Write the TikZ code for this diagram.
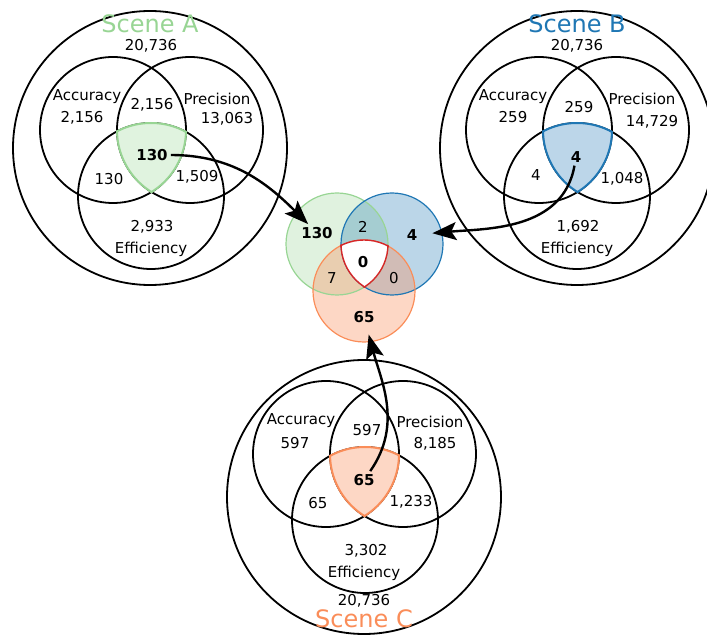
\documentclass[tikz,border=0pt]{standalone}
\usepackage{fontspec}
\setmainfont{DejaVu Sans}
\usepackage{xcolor}
\usepackage{tikz}
\usetikzlibrary{arrows.meta}

\definecolor{sceneA}{RGB}{152,213,148}
\definecolor{sceneB}{RGB}{31,119,180}
\definecolor{sceneC}{RGB}{250,141,89}
\definecolor{common}{RGB}{214,39,40}

\tikzset{
    set/.style={draw, line width=1.8pt},
    count/.style={font=\fontsize{15}{18}\selectfont, inner sep=2pt},
    hit/.style={font=\fontsize{15}{18}\selectfont\bfseries, inner sep=3pt},
    title/.style={font=\fontsize{24}{28}\selectfont, inner sep=0pt},
    flow/.style={-{Stealth[length=24pt,width=18pt,inset=5pt]}, line width=2.4pt},
}

% shared part of three circles: centres #1 #2 #3, radius #4, fill #5, edge #6
\newcommand{\sharedpart}[6]{%
    \begin{scope}
        \clip (#1) circle (#4); \clip (#2) circle (#4);
        \fill[#5] (#3) circle (#4);
    \end{scope}
    \begin{scope}
        \clip (#2) circle (#4+1); \clip (#3) circle (#4+1);
        \draw[#6] (#1) circle (#4);
    \end{scope}
    \begin{scope}
        \clip (#1) circle (#4+1); \clip (#3) circle (#4+1);
        \draw[#6] (#2) circle (#4);
    \end{scope}
    \begin{scope}
        \clip (#1) circle (#4+1); \clip (#2) circle (#4+1);
        \draw[#6] (#3) circle (#4);
    \end{scope}}

\begin{document}
\begin{tikzpicture}[x=1pt, y=1pt]
    \useasboundingbox (0,0) rectangle (707,635);

    % Scene A
    \coordinate (accA) at (113,505);
    \coordinate (preA) at (190,505);
    \coordinate (effA) at (151,439);
    \draw[set] (150,487) circle (137);
    \draw[set] (accA) circle (73);
    \draw[set] (preA) circle (73);
    \draw[set] (effA) circle (73);
    \sharedpart{accA}{preA}{effA}{73}{sceneA!30}{sceneA, line width=2pt}
    \node[title, text=sceneA] (titleA) at (150,611) {Scene A};
    \node[count] (allA) at (151,589) {20,736};
    \node[count] (accnameA) at (87,538) {Accuracy};
    \node[count] (accA1) at (82,517) {2,156};
    \node[count] (apA) at (152,530) {2,156};
    \node[count] (prenameA) at (217,536) {Precision};
    \node[count] (preA1) at (227,516) {13,063};
    \node[hit] (boldA) at (152,480) {130};
    \node[count] (aeA) at (109,456) {130};
    \node[count] (peA) at (197,458) {1,509};
    \node[count] (effA1) at (152,408) {2,933};
    \node[count] (effnameA) at (151,386) {Efficiency};

    % Scene B
    \coordinate (accB) at (539,505);
    \coordinate (preB) at (616,505);
    \coordinate (effB) at (577,439);
    \draw[set] (577,487) circle (137);
    \draw[set] (accB) circle (73);
    \draw[set] (preB) circle (73);
    \draw[set] (effB) circle (73);
    \sharedpart{accB}{preB}{effB}{73}{sceneB!30}{sceneB, line width=2pt}
    \node[title, text=sceneB] (titleB) at (577,611) {Scene B};
    \node[count] (allB) at (577,589) {20,736};
    \node[count] (accnameB) at (513,538) {Accuracy};
    \node[count] (accB1) at (513,518) {259};
    \node[count] (apB) at (579,528) {259};
    \node[count] (prenameB) at (642,536) {Precision};
    \node[count] (preB1) at (652,513) {14,729};
    \node[hit] (boldB) at (576,478) {4};
    \node[count] (aeB) at (536,460) {4};
    \node[count] (peB) at (622,456) {1,048};
    \node[count] (effB1) at (578,408) {1,692};
    \node[count] (effnameB) at (577,386) {Efficiency};

    % Scene C
    \coordinate (accC) at (326,181);
    \coordinate (preC) at (403,181);
    \coordinate (effC) at (365,115);
    \draw[set] (364,138) circle (137);
    \draw[set] (accC) circle (73);
    \draw[set] (preC) circle (73);
    \draw[set] (effC) circle (73);
    \sharedpart{accC}{preC}{effC}{73}{sceneC!35}{sceneC, line width=2pt}
    \node[count] (accnameC) at (301,214) {Accuracy};
    \node[count] (accC1) at (295,192) {597};
    \node[count] (apC) at (367,205) {597};
    \node[count] (prenameC) at (430,213) {Precision};
    \node[count] (preC1) at (435,191) {8,185};
    \node[hit] (boldC) at (364,155) {65};
    \node[count] (aeC) at (318,132) {65};
    \node[count] (peC) at (411,133) {1,233};
    \node[count] (effC1) at (366,84) {3,302};
    \node[count] (effnameC) at (364,62) {Efficiency};
    \node[count] (allC) at (364,34) {20,736};
    \node[title, text=sceneC] (titleC) at (364,16) {Scene C};

    % Scenes compared
    \coordinate (gM) at (337,391);
    \coordinate (bM) at (392,391);
    \coordinate (oM) at (364,344);
    \fill[sceneA, fill opacity=.3] (gM) circle (51);
    \fill[sceneB, fill opacity=.3] (bM) circle (51);
    \fill[sceneC, fill opacity=.35] (oM) circle (51);
    \draw[sceneA, line width=1.2pt] (gM) circle (51);
    \draw[sceneB, line width=1.2pt] (bM) circle (51);
    \draw[sceneC, line width=1.2pt] (oM) circle (51);
    \sharedpart{gM}{bM}{oM}{51}{white}{common, line width=1.4pt}
    \node[hit] (m130) at (317,402) {130};
    \node[count] (mAB) at (363,408) {2};
    \node[hit] (m4) at (412,400) {4};
    \node[hit] (mABC) at (363,373) {0};
    \node[count] (mAC) at (332,357) {7};
    \node[count] (mBC) at (394,357) {0};
    \node[hit] (m65) at (364,318) {65};

    % Arrows from each scene
    \draw[flow] (boldA) to[out=0, in=135] (m130);
    \draw[flow, shorten >=12pt] (boldB) to[out=-100, in=5] (m4);
    \draw[flow, shorten >=9pt] (boldC) to[out=55, in=-75] (m65);
\end{tikzpicture}
\end{document}
